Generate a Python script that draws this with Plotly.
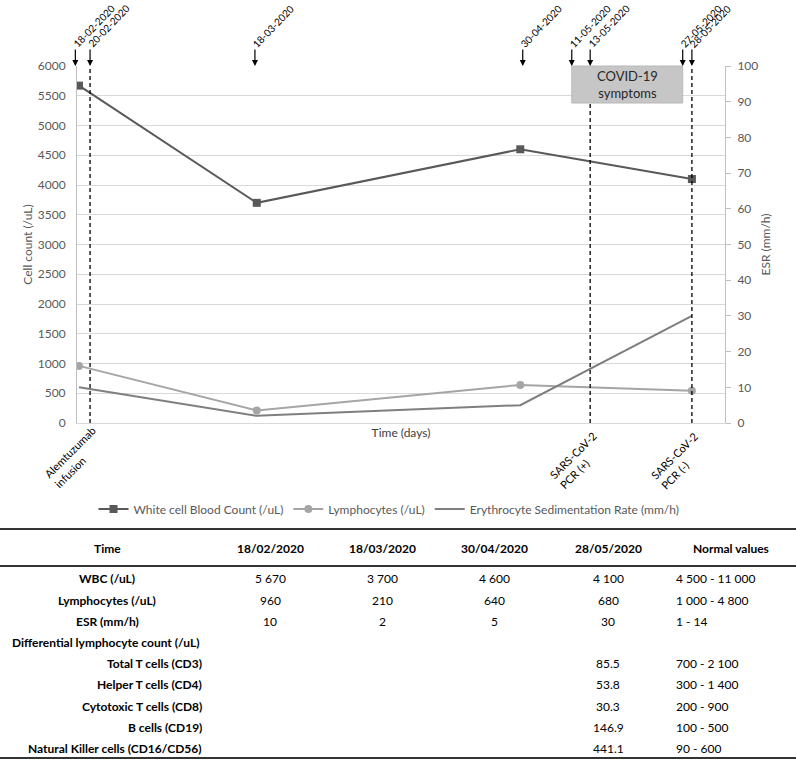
import plotly.graph_objects as go
import pandas as pd

# ---------------- data ----------------
dates = ["2020-02-18", "2020-03-18", "2020-04-30", "2020-05-28"]
wbc = [5670, 3700, 4600, 4100]
lymph = [960, 210, 640, 540]
esr = [10, 2, 5, 30]

event_labels = ["18-02-2020", "20-02-2020", "18-03-2020", "30-04-2020",
                "11-05-2020", "13-05-2020", "27-05-2020", "28-05-2020"]
event_pos = [-0.6, 1.8, 28.7, 72.4, 80.4, 83.4, 98.5, 100]  # days, as placed in the figure

bottom_labels = {1: "Alemtuzumab<br>infusion", 5: "SARS-CoV-2<br>PCR (+)", 7: "SARS-CoV-2<br>PCR (-)"}

table_header = ["Time", "18/02/2020", "18/03/2020", "30/04/2020", "28/05/2020", "Normal values"]
table_rows = [
    ["WBC (/uL)", "5 670", "3 700", "4 600", "4 100", "4 500 - 11 000"],
    ["Lymphocytes (/uL)", "960", "210", "640", "680", "1 000 - 4 800"],
    ["ESR (mm/h)", "10", "2", "5", "30", "1 - 14"],
    ["Differential lymphocyte count (/uL)", "", "", "", "", ""],
    ["Total T cells (CD3)", "", "", "", "85.5", "700 - 2 100"],
    ["Helper T cells (CD4)", "", "", "", "53.8", "300 - 1 400"],
    ["Cytotoxic T cells (CD8)", "", "", "", "30.3", "200 - 900"],
    ["B cells (CD19)", "", "", "", "146.9", "100 - 500"],
    ["Natural Killer cells (CD16/CD56)", "", "", "", "441.1", "90 - 600"],
]

# ---------------- layout geometry ----------------
W, H = 796, 762
L, R, T, B = 77, 71, 66, 339
PW, PH = W - L - R, H - T - B
FONT = "Lato"
XR = [-0.33, 105.4]


def px(xp):
    return (xp - L) / PW


def py(yp):
    return (H - B - yp) / PH


def dx(day):
    return (day - XR[0]) / (XR[1] - XR[0])


days = (pd.to_datetime(dates) - pd.to_datetime(dates[0])).days.tolist()

fig = go.Figure()
fig.add_trace(go.Scatter(x=days, y=wbc, name="White cell Blood Count (/uL)", mode="lines+markers",
                         line=dict(color="#595959", width=2),
                         marker=dict(symbol="square", size=8, color="#595959")))
fig.add_trace(go.Scatter(x=days, y=lymph, name="Lymphocytes (/uL)", mode="lines+markers",
                         line=dict(color="#A5A5A5", width=2),
                         marker=dict(symbol="circle", size=8, color="#A5A5A5")))
fig.add_trace(go.Scatter(x=days, y=esr, name="Erythrocyte Sedimentation Rate (mm/h)", mode="lines",
                         line=dict(color="#7F7F7F", width=2), yaxis="y2"))

shapes = []
annotations = []

# COVID box
box_top, box_bot = 1.0, py(103)
shapes.append(dict(type="rect", xref="paper", yref="paper", x0=dx(event_pos[4]), x1=dx(event_pos[6]),
                   y0=box_bot, y1=box_top, fillcolor="#C6C6C6", line=dict(color="#B8B8B8", width=1), layer="above"))
annotations.append(dict(xref="paper", yref="paper", x=dx((event_pos[4] + event_pos[6]) / 2), y=(box_top + box_bot) / 2,
                        text="COVID-19<br>symptoms", showarrow=False, xanchor="center", yanchor="middle",
                        font=dict(family=FONT, size=13, color="#262626")))

# dashed lines
for i, top in [(1, 1.0), (5, box_bot), (7, 1.0)]:
    shapes.append(dict(type="line", xref="paper", yref="paper", x0=dx(event_pos[i]), x1=dx(event_pos[i]), y0=0, y1=top,
                       line=dict(color="#000000", width=1.3, dash="4px,3px"), layer="above"))

# arrows + date labels
for lab, pos in zip(event_labels, event_pos):
    annotations.append(dict(xref="paper", yref="paper", x=dx(pos), y=1.0, text="", showarrow=True,
                            ax=0, ay=-18, arrowhead=2, arrowsize=1, arrowwidth=1.2, arrowcolor="#000000"))
    annotations.append(dict(xref="paper", yref="paper", x=dx(pos), y=1.0, text=lab, showarrow=False,
                            textangle=-46, xanchor="left", yanchor="bottom", xshift=-6, yshift=15, borderpad=0,
                            font=dict(family=FONT, size=10, color="#000000")))

# bottom rotated labels
label_yshift = {1: 3, 5: -4, 7: -4}
for i, lab in bottom_labels.items():
    annotations.append(dict(xref="paper", yref="paper", x=dx(event_pos[i]), y=0, text=lab, showarrow=False,
                            textangle=-45, xanchor="right", yanchor="top", xshift=21, yshift=label_yshift[i],
                            align="left", font=dict(family=FONT, size=11, color="#000000")))

# ---------------- table ----------------
col_x = [107, 270, 382, 494, 608, 731]
header_y = 548
row_y = [578, 600, 621, 642, 663, 684, 706, 727, 748]
for yline, wline in [(529, 2), (566, 2), (758, 2)]:
    shapes.append(dict(type="line", xref="paper", yref="paper", x0=px(0), x1=px(W), y0=py(yline), y1=py(yline),
                       line=dict(color="#333333", width=wline)))

for j, h in enumerate(table_header):
    annotations.append(dict(xref="paper", yref="paper", x=px(col_x[j]), y=py(header_y), text="<b>%s</b>" % h,
                            showarrow=False, xanchor="center", yanchor="middle",
                            font=dict(family=FONT, size=12, color="#000000")))

for r, (row, yr) in enumerate(zip(table_rows, row_y)):
    label = row[0]
    if r < 3:
        annotations.append(dict(xref="paper", yref="paper", x=px(col_x[0]), y=py(yr), text="<b>%s</b>" % label,
                                showarrow=False, xanchor="center", yanchor="middle",
                                font=dict(family=FONT, size=12, color="#000000")))
    elif r == 3:
        annotations.append(dict(xref="paper", yref="paper", x=px(10), y=py(yr), text="<b>%s</b>" % label,
                                showarrow=False, xanchor="left", yanchor="middle",
                                font=dict(family=FONT, size=12, color="#000000")))
    else:
        annotations.append(dict(xref="paper", yref="paper", x=px(204), y=py(yr), text="<b>%s</b>" % label,
                                showarrow=False, xanchor="right", yanchor="middle",
                                font=dict(family=FONT, size=12, color="#000000")))
    for j in range(1, 5):
        if row[j]:
            annotations.append(dict(xref="paper", yref="paper", x=px(col_x[j]), y=py(yr), text=row[j],
                                    showarrow=False, xanchor="center", yanchor="middle",
                                    font=dict(family=FONT, size=12, color="#000000")))
    if row[5]:
        annotations.append(dict(xref="paper", yref="paper", x=px(674), y=py(yr), text=row[5],
                                showarrow=False, xanchor="left", yanchor="middle",
                                font=dict(family=FONT, size=12, color="#000000")))

fig.update_layout(
    width=W, height=H,
    margin=dict(l=L, r=R, t=T, b=B, autoexpand=False),
    paper_bgcolor="white", plot_bgcolor="white",
    font=dict(family=FONT, size=11, color="#595959"),
    showlegend=True,
    legend=dict(orientation="h", x=px(389), xanchor="center", y=py(509), yanchor="middle",
                font=dict(family=FONT, size=12, color="#595959"), itemwidth=30),
    xaxis=dict(range=XR, showticklabels=False, showgrid=False, zeroline=False,
               showline=True, linecolor="#D9D9D9", linewidth=1, ticks="",
               title=dict(text="Time (days)", standoff=5, font=dict(family=FONT, size=12, color="#404040"))),
    yaxis=dict(range=[0, 6000], dtick=500, showgrid=True, gridcolor="#D9D9D9", gridwidth=1,
               zeroline=False, showline=True, linecolor="#BFBFBF", linewidth=1, ticks="",
               ticklabelstandoff=8, tickfont=dict(family=FONT, size=12, color="#595959"),
               title=dict(text="Cell count (/uL)", standoff=2, font=dict(family=FONT, size=12, color="#595959"))),
    yaxis2=dict(range=[0, 100], dtick=10, overlaying="y", side="right", showgrid=False, zeroline=False,
                showline=True, linecolor="#BFBFBF", linewidth=1, ticks="outside", ticklen=5, tickcolor="#BFBFBF",
                ticklabelstandoff=4, tickfont=dict(family=FONT, size=12, color="#595959"),
                title=dict(text="ESR (mm/h)", standoff=4, font=dict(family=FONT, size=12, color="#595959"))),
    shapes=shapes, annotations=annotations,
)

fig.write_html("out.html", config={"displayModeBar": False},
               post_script="document.body.style.margin='0px';")
